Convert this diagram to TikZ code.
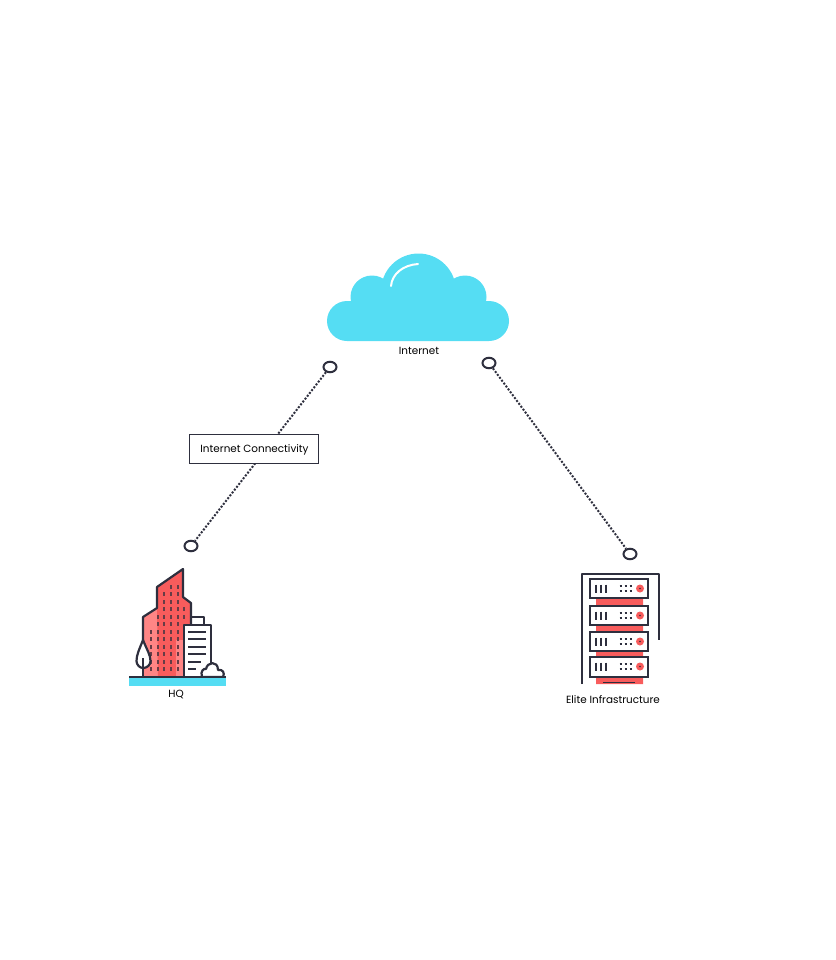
\documentclass[tikz,border=0pt]{standalone}
\usepackage{fontspec}
\setmainfont{Poppins}
\usetikzlibrary{shapes.geometric}
\definecolor{cy}{HTML}{55DDF3}
\definecolor{rd}{HTML}{F85C5C}
\definecolor{lrd}{HTML}{FF8585}
\definecolor{dk}{HTML}{2E2F3E}
\tikzset{
  port/.style={ellipse,draw=dk,line width=2pt,fill=white,minimum width=13pt,minimum height=10.5pt,inner sep=0pt},
  link/.style={draw=dk,line width=2pt,dash pattern=on 2pt off 1.6pt},
  lab/.style={font=\fontsize{10.4}{12}\selectfont,text=black,inner sep=0pt},
  ic/.style={draw=dk,line width=2.2pt,line join=round},
  win/.style={draw=dk!72!rd,line width=2pt},
  srv/.style={draw=dk,line width=2.4pt,fill=white}
}
\begin{document}
\begin{tikzpicture}[x=1pt,y=-1pt]
\useasboundingbox (0,0) rectangle (835,960);
% cloud
\fill[cy] (347,341) arc[start angle=90,end angle=270,radius=20] -- (489,301) arc[start angle=-90,end angle=90,radius=20] -- cycle;
\fill[cy] (372,297) circle[radius=21.5] (465,297) circle[radius=21.5] (418.5,291) circle[radius=37.5];
\fill[cy] (372,297) rectangle (465,320);
\draw[white,line width=2pt,line cap=round] (391,286) .. controls (392,274) and (403,265) .. (418,264);
\node[lab] (internet) at (419,350.5) {Internet};
% ports and links
\node[port] (p1) at (330,367) {};
\node[port] (p2) at (191,546) {};
\node[port] (p3) at (489,363) {};
\node[port] (p4) at (630,554) {};
\draw[link] (p1) -- (p2);
\draw[link] (p3) -- (p4);
\node[draw=dk,line width=0.7pt,fill=white,minimum width=129pt,minimum height=29pt,inner sep=0pt] (conn) at (254,449) {};
\node[lab] (connlab) at (254.5,450) {Internet Connectivity};
% HQ
\fill[lrd] (143,617) -- (157,608) -- (157,587) -- (183,569) -- (184,677) -- (143,677) -- cycle;
\fill[rd] (157,608) -- (157,587) -- (183,569) -- (183,597) -- (191,603) -- (191,625) -- (184,625) -- (184,677) -- (158,677) -- cycle;
\fill[lrd] (176,677) rectangle (184,640);
\foreach \c/\s/\e in {151/632/669,158/617/669,164/594/669,171/587/669,178/587/669,184/609/617}{
  \foreach \r in {587,594,602,609,617,624,632,639,647,654,662,669}{
    \ifnum\r<\s\relax\else\ifnum\r>\e\relax\else
      \draw[win] (\c,\r-1.7) -- (\c,\r+1.7);
    \fi\fi
  }
}
\draw[ic] (143,640) -- (143,617) -- (157,608) -- (157,587) -- (183,569) -- (183,597) -- (191,603) -- (191,625);
\fill[white] (184,625) rectangle (211,677);
\draw[ic] (184,677) -- (184,625) -- (211,625) -- (211,665);
\draw[ic] (191,625) -- (191,617) -- (204,617) -- (204,625);
\foreach \y/\xe in {632/206,639/206,647/206,654/206,662/201,669/196}{\draw[dk,line width=1.9pt] (188,\y) -- (\xe,\y);}
\draw[ic,fill=white] (143,640) .. controls (139,650) and (136.5,655) .. (136.5,661) .. controls (136.5,665) and (140,668) .. (143,668) .. controls (147,668) and (150.5,665) .. (150.5,661) .. controls (150.5,655) and (147,650) .. (143,640) -- cycle;
\draw[ic] (143,658) -- (143,677);
\draw[ic,fill=white] (202,677) .. controls (200,671) and (204,668) .. (206,669) .. controls (207,662) and (218,660) .. (218,670) .. controls (223,669) and (225,673) .. (223,677) -- cycle;
\fill[cy] (129,677) rectangle (226,686);
\draw[dk,line width=2.2pt] (129,677) -- (226,677);
\node[lab] (hq) at (176,695) {HQ};
% Server rack
\draw[ic] (582,684) -- (582,574) -- (659,574) -- (659,640);
\fill[rd] (596,598) rectangle (643,606) (596,625) rectangle (643,632) (596,651) rectangle (643,657) (596,677) rectangle (643,684);
\foreach \y/\h in {579/19,606/19,632/19,657/20}{
  \draw[srv] (590,\y) rectangle (648,\y+\h);
  \foreach \x in {596,601,606}{\draw[dk,line width=1.7pt] (\x,\y+5.5) -- (\x,\y+13.5);}
  \foreach \x in {621,626,631}{
    \draw[dk,line width=1.5pt] (\x-1.4,\y+7) -- (\x+1.4,\y+7) (\x-1.4,\y+12) -- (\x+1.4,\y+12);
  }
  \fill[rd] (640,\y+9.5) circle[radius=4];
  \fill[dk] (640,\y+9.5) circle[radius=0.9];
}
\draw[dk,line width=1.8pt] (603,682.5) -- (635,682.5);
\node[lab] (elite) at (613,699.5) {Elite Infrastructure};
\end{tikzpicture}
\end{document}
